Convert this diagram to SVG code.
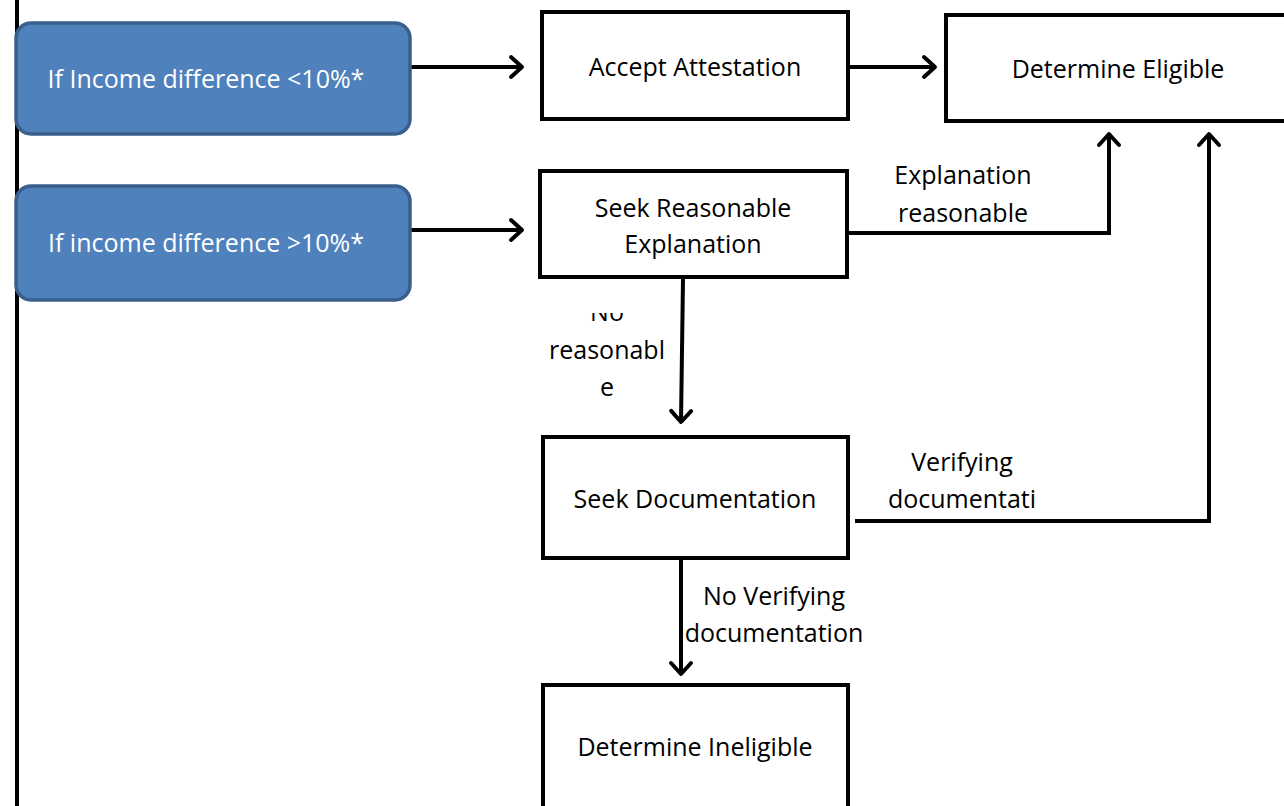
<svg xmlns="http://www.w3.org/2000/svg" width="1284" height="806" viewBox="0 0 1284 806">
<defs>
<style>
.t{font-family:"Open Sans","Liberation Sans",sans-serif;font-size:25px;fill:#000;text-anchor:middle}
.w{fill:#fff}
.box{fill:#fff;stroke:#000;stroke-width:4}
.blue{fill:#4F81BD;stroke:#3A5F8C;stroke-width:3.5}
.c{fill:none;stroke:#000;stroke-width:4}
</style>
<marker id="ah" markerWidth="17" markerHeight="26" refX="14" refY="13" orient="auto" markerUnits="userSpaceOnUse" viewBox="0 0 17 26">
<path d="M3,3 L14,13 L3,23" fill="none" stroke="#000" stroke-width="4" stroke-linecap="round" stroke-linejoin="round"/>
</marker>
<clipPath id="clipNo"><rect x="520" y="313" width="180" height="100"/></clipPath>
</defs>
<rect width="1284" height="806" fill="#fff"/>
<line x1="17" y1="0" x2="17" y2="806" stroke="#000" stroke-width="4"/>
<g id="connectors">
<line class="c" x1="411" y1="67" x2="522" y2="67" marker-end="url(#ah)"/>
<line class="c" x1="411" y1="230" x2="522" y2="230" marker-end="url(#ah)"/>
<line class="c" x1="849" y1="67" x2="935" y2="67" marker-end="url(#ah)"/>
<polyline class="c" points="849,233 1109,233 1109,134" marker-end="url(#ah)"/>
<line class="c" x1="683" y1="279" x2="681" y2="422" marker-end="url(#ah)"/>
<polyline class="c" points="855,521 1209,521 1209,134" marker-end="url(#ah)"/>
<line class="c" x1="681" y1="560" x2="681" y2="674" marker-end="url(#ah)"/>
<text class="t" x="963" y="184">Explanation</text>
<text class="t" x="963" y="222">reasonable</text>
<g clip-path="url(#clipNo)">
<text class="t" x="607" y="321">No</text>
<text class="t" x="607" y="359">reasonabl</text>
<text class="t" x="607" y="396">e</text>
</g>
<text class="t" x="962" y="471">Verifying</text>
<text class="t" x="962" y="508">documentati</text>
<text class="t" x="774" y="605">No Verifying</text>
<text class="t" x="774" y="642">documentation</text>
</g>
<g id="n1">
<rect class="blue" x="16" y="23" width="394" height="111" rx="15"/>
<text class="t w" x="206" y="88">If Income difference &lt;10%*</text>
</g>
<g id="n2">
<rect class="blue" x="16" y="186" width="394" height="114" rx="15"/>
<text class="t w" x="206" y="252">If income difference &gt;10%*</text>
</g>
<g id="n3">
<rect class="box" x="542" y="12" width="306" height="107"/>
<text class="t" x="695" y="76">Accept Attestation</text>
</g>
<g id="n4">
<rect class="box" x="946" y="15" width="345" height="106"/>
<text class="t" x="1118" y="78">Determine Eligible</text>
</g>
<g id="n5">
<rect class="box" x="540" y="171" width="307" height="106"/>
<text class="t" x="693" y="217">Seek Reasonable</text>
<text class="t" x="693" y="253">Explanation</text>
</g>
<g id="n6">
<rect class="box" x="543" y="437" width="305" height="121"/>
<text class="t" x="695" y="508">Seek Documentation</text>
</g>
<g id="n7">
<rect class="box" x="543" y="685" width="305" height="130"/>
<text class="t" x="695" y="756">Determine Ineligible</text>
</g>
</svg>
